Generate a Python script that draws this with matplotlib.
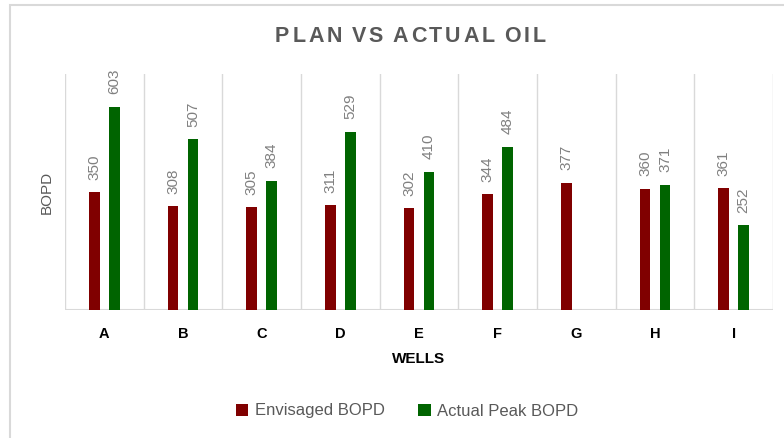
import matplotlib
matplotlib.use('Agg')
import matplotlib.pyplot as plt
from matplotlib.patches import Rectangle
import numpy as np

plt.rcParams['font.family'] = ['Liberation Sans', 'DejaVu Sans']

wells = ['A', 'B', 'C', 'D', 'E', 'F', 'G', 'H', 'I']
envisaged = [350, 308, 305, 311, 302, 344, 377, 360, 361]
actual_peak = [603, 507, 384, 529, 410, 484, np.nan, 371, 252]

red = '#800000'
green = '#006400'
grey_txt = '#595959'
lbl_grey = '#808080'
grid_c = '#d9d9d9'

fig = plt.figure(figsize=(7.84, 4.38), dpi=100)
fig.patch.set_facecolor('white')
# chart frame
fig.add_artist(Rectangle((10/784, -0.1), 1.2, 1 - 5/438 + 0.1, transform=fig.transFigure,
                         fill=False, edgecolor=grid_c, lw=1.5))

ax = fig.add_axes([65/784, 1 - 310/438, (773 - 65)/784, (310 - 74)/438])
x = np.arange(len(wells))
off, w = 0.127, 0.134
b1 = ax.bar(x - off, envisaged, w, color=red, label='Envisaged BOPD', zorder=3)
b2 = ax.bar(x + off, actual_peak, w, color=green, label='Actual Peak BOPD', zorder=3)

for bars, vals in ((b1, envisaged), (b2, actual_peak)):
    for r, v in zip(bars, vals):
        if np.isnan(v):
            continue
        ax.annotate(f'{v:.0f}', (r.get_x() + r.get_width()/2, v), xytext=(0, 9),
                    textcoords='offset points', rotation=90, ha='center', va='bottom',
                    fontsize=11, color=lbl_grey)

ax.set_xlim(-0.5, len(wells) - 0.5)
ax.set_ylim(0, 700)
for b in np.arange(-0.5, len(wells), 1):
    ax.axvline(b, color=grid_c, lw=1, zorder=1)
ax.axhline(0, color=grid_c, lw=1.5, zorder=2)
for s in ax.spines.values():
    s.set_visible(False)
ax.set_yticks([])
ax.set_xticks(x)
ax.set_xticklabels(wells, fontsize=10.5, fontweight='bold', color='black')
ax.tick_params(axis='x', length=0, pad=12)

ax.set_xlabel('WELLS', fontsize=11, fontweight='bold', color='black', labelpad=8)
ax.set_ylabel('BOPD', fontsize=11, color=grey_txt, labelpad=8)

# title with letter spacing, placed glyph by glyph
title = 'PLAN VS ACTUAL OIL'
t_left, t_right, t_y = 275, 546, 1 - 37/438
renderer = fig.canvas.get_renderer()
widths = []
for ch in title:
    t = fig.text(0, 0, ch if ch != ' ' else 'I', fontsize=15.5, fontweight='bold')
    widths.append(t.get_window_extent(renderer).width * (0.6 if ch == ' ' else 1))
    t.remove()
track = (t_right - t_left - sum(widths)) / (len(title) - 1)
xpos = t_left
for ch, wd in zip(title, widths):
    if ch != ' ':
        fig.text(xpos/784, t_y, ch, ha='left', va='center', fontsize=15.5,
                 fontweight='bold', color=grey_txt)
    xpos += wd + track

fig.legend(handles=[b1, b2], loc='center', bbox_to_anchor=(407/784, 1 - 411/438), ncol=2,
           frameon=False, fontsize=12, labelcolor=grey_txt, handlelength=0.75, handleheight=0.75,
           handletextpad=0.4, columnspacing=2.0)

fig.savefig('out.png', dpi=100, facecolor='white')
